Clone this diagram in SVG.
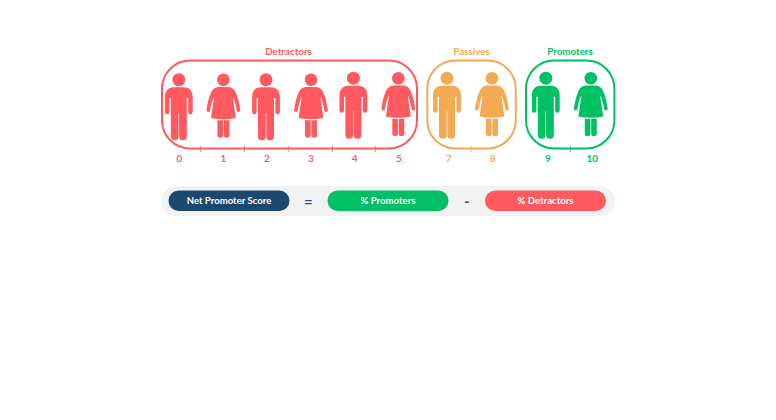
<svg xmlns="http://www.w3.org/2000/svg" xmlns:xlink="http://www.w3.org/1999/xlink" width="776" height="420" viewBox="0 0 776 420">
<style>
text{font-family:Lato,"Noto Sans",sans-serif;text-anchor:middle}
.t{font-size:9.8px;font-weight:700}
.n{font-size:10px;font-weight:700}
.p{font-size:9.6px;font-weight:700;fill:#fff}
.o{font-size:15px;font-weight:700;fill:#2b5580}
.box{fill:none;stroke-width:2}
.tick{stroke-width:.8;fill:none}
.r{fill:#ff5a5f}
.a{fill:#f4aa52}
.g{fill:#00c066}
.rs{stroke:#ff5a5f}.as{stroke:#f4aa52}.gs{stroke:#00c066}
</style>
<defs>
<g id="man">
<circle cx="0" cy="0" r="6.5"/>
<path d="M-5.5,7.5H5.5C10.5,7.5 13.9,11.5 13.9,17V32.2A2.25,2.25 0 0 1 9.4,32.2V18.5H8V56.8A3.85,3.85 0 0 1 .3,56.8V33H-.3V56.8A3.85,3.85 0 0 1 -8,56.8V18.5H-9.4V32.2A2.25,2.25 0 0 1 -13.9,32.2V17C-13.9,11.5 -10.5,7.5 -5.5,7.5Z"/>
</g>
<g id="woman">
<circle cx="0" cy="0" r="6.3"/>
<path d="M-4.5,7.3H4.5C8,7.3 10.5,9 12,12C14,16 15.8,23 16.8,29.8A1.8,1.8 0 0 1 13.4,31C12.8,27 11.6,22 9.8,17.5H9.4L12.4,38.2Q0,41 -12.4,38.2L-9.4,17.5H-9.8C-11.6,22 -12.8,27 -13.4,31A1.8,1.8 0 0 1 -16.8,29.8C-15.8,23 -14,16 -12,12C-10.5,9 -8,7.3 -4.5,7.3Z"/>
<path d="M-6,40.6H-.4V55.2A2.8,2.8 0 0 1 -6,55.2ZM.4,40.6H6V55.2A2.8,2.8 0 0 1 .4,55.2Z"/>
</g>
</defs>
<g id="connectors">
<path class="tick rs" d="M200.7 146V152M244.3 146V152M288.3 146V152M332.3 146V152M375.3 146V152"/>
<path class="tick as" d="M471 146V152"/>
<path class="tick gs" d="M570.3 146V152"/>
</g>
<g id="detractors">
<text class="t" x="288.5" y="55" fill="#ff5a5f">Detractors</text>
<rect class="box rs" x="162" y="60.5" width="255" height="88" rx="28"/>
<use href="#man" class="r" x="178.8" y="79.7"/>
<use href="#woman" class="r" x="223.4" y="79.7"/>
<use href="#man" class="r" x="266" y="79.7"/>
<use href="#woman" class="r" x="311" y="79.7"/>
<use href="#man" class="r" x="353.4" y="78.2"/>
<use href="#woman" class="r" x="398.3" y="78.2"/>
<g fill="#ff5a5f" class="n">
<text x="179.5" y="162">0</text><text x="223.5" y="162">1</text><text x="267" y="162">2</text><text x="311" y="162">3</text><text x="354.7" y="162">4</text><text x="399" y="162">5</text>
</g>
</g>
<g id="passives">
<text class="t" x="471.5" y="55" fill="#f4aa52">Passives</text>
<rect class="box as" x="427.3" y="60.5" width="88.4" height="88" rx="28"/>
<use href="#man" class="a" x="447" y="78.2"/>
<use href="#woman" class="a" x="492" y="78.2"/>
<g fill="#f4aa52" class="n"><text x="448.7" y="162">7</text><text x="493" y="162">8</text></g>
</g>
<g id="promoters">
<text class="t" x="570" y="55" fill="#00c066">Promoters</text>
<rect class="box gs" x="526" y="60.5" width="88.4" height="88" rx="28"/>
<use href="#man" class="g" x="545.8" y="78.2"/>
<use href="#woman" class="g" x="590.8" y="78.2"/>
<g fill="#00c066" class="n"><text x="548" y="162">9</text><text x="592.3" y="162">10</text></g>
</g>
<g id="formula">
<rect x="161" y="186" width="454" height="30" rx="15" fill="#f2f2f2"/>
<g id="nps"><rect x="168.5" y="190.5" width="121" height="20.5" rx="10.2" fill="#1c4870"/><text class="p" x="229" y="204.2">Net Promoter Score</text></g>
<text class="o" x="308.3" y="207">=</text>
<g id="prom"><rect x="327.5" y="190.5" width="121" height="20.5" rx="10.2" fill="#00c066"/><text class="p" x="388" y="204.2">% Promoters</text></g>
<text class="o" x="466.8" y="207">-</text>
<g id="detr"><rect x="485" y="190.5" width="121" height="20.5" rx="10.2" fill="#ff5a5f"/><text class="p" x="545.5" y="204.2">% Detractors</text></g>
</g>
</svg>
